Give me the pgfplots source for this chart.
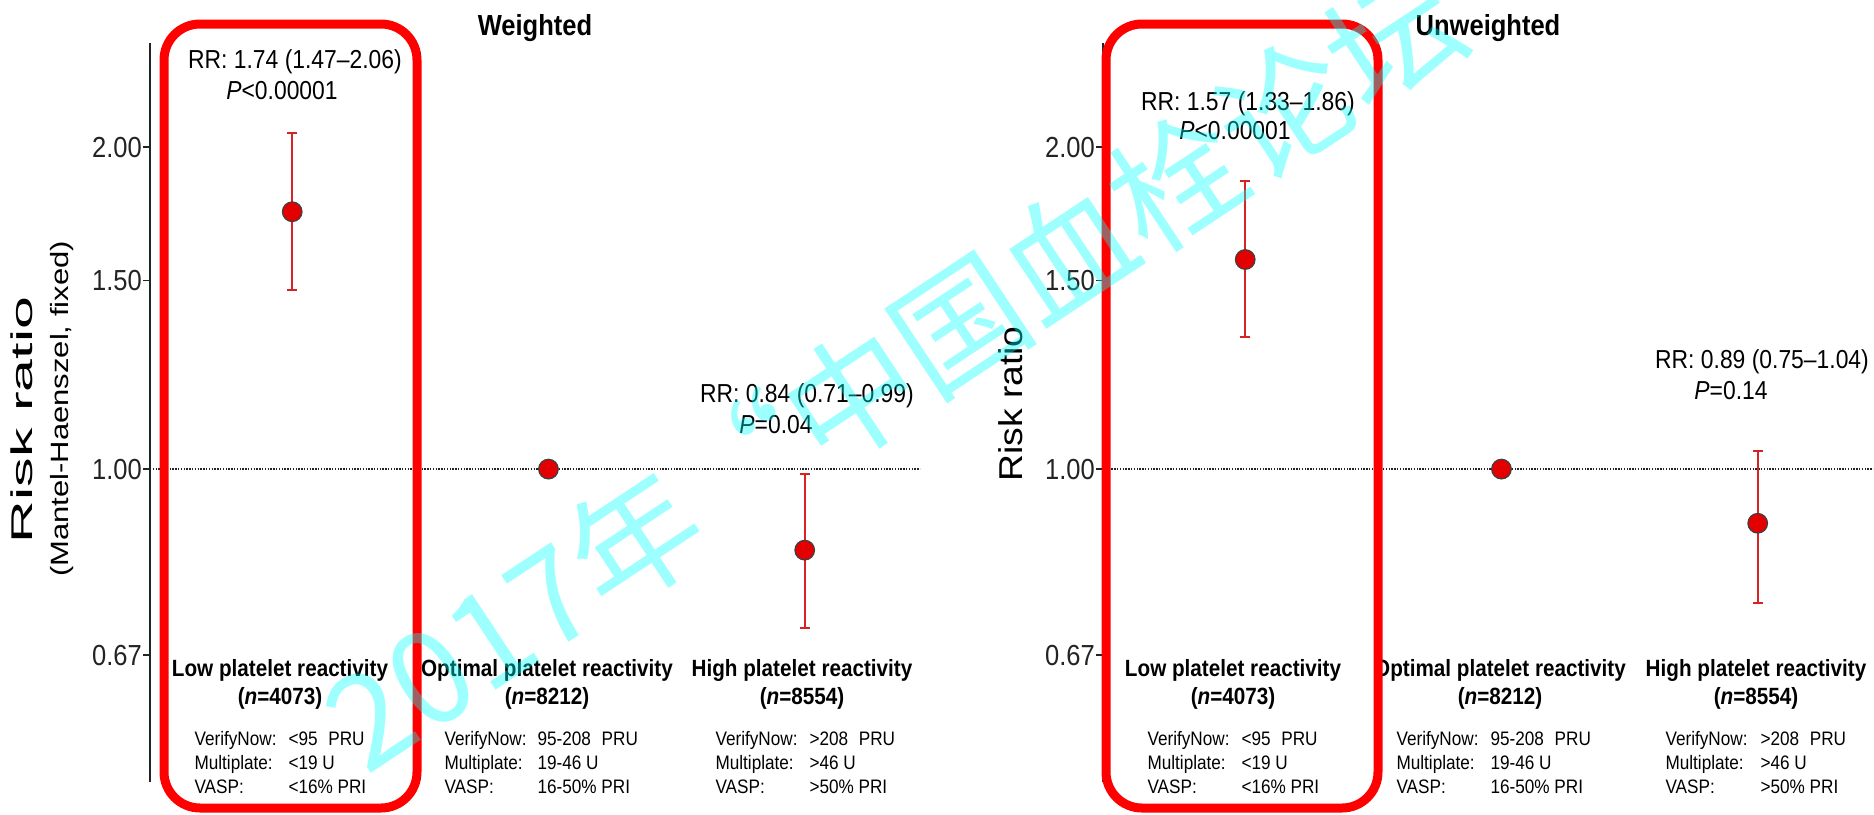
\documentclass[border=0pt]{standalone}
\usepackage{fontspec}
\setmainfont{Liberation Sans}[FakeStretch=0.88]
\newfontfamily\plainfont{Liberation Sans}
\newfontfamily\cjk{Noto Sans CJK SC}
\usepackage{graphicx}
\usepackage{pgfplots}
\pgfplotsset{compat=1.18}
\newcommand{\fs}[1]{\fontsize{#1}{#1}\selectfont}
\definecolor{ptred}{RGB}{226,0,0}
\definecolor{barred}{RGB}{215,35,35}
\definecolor{boxred}{RGB}{255,0,0}
\definecolor{axgray}{RGB}{35,35,35}
\definecolor{wmcyan}{RGB}{0,255,255}
\pgfplotsset{rrpanel/.style={
  scale only axis, width=770pt, height=738.7pt,
  xmin=0.445, xmax=3.45, ymin=0.51, ymax=2.5,
  axis x line=none, axis y line=left,
  axis line style={-, line width=2pt, color=axgray},
  xtick=\empty, ytick={0.67,1,1.5,2}, yticklabels={0.67,1.00,1.50,2.00},
  tick align=outside, major tick length=7pt,
  tick style={line width=1.5pt, color=axgray},
  yticklabel style={font=\fs{29}, inner sep=1pt, text=axgray},
  /pgf/number format/assume math mode=true,
  clip=false,
}}
% spec block: #1 x label col, #2 x value col, #3 v1, #4 v2, #5 v3
\newcommand{\spec}[5]{%
  \node[anchor=base west, font=\fs{19.5}] at (#1pt,-745pt) {VerifyNow:};
  \node[anchor=base west, font=\fs{19.5}] at (#1pt,-769pt) {Multiplate:};
  \node[anchor=base west, font=\fs{19.5}] at (#1pt,-793pt) {VASP:};
  \node[anchor=base west, font=\fs{19.5}] at (#2pt,-745pt) {#3};
  \node[anchor=base west, font=\fs{19.5}] at (#2pt,-769pt) {#4};
  \node[anchor=base west, font=\fs{19.5}] at (#2pt,-793pt) {#5};
}
\newcommand{\cat}[3]{%
  \node[anchor=base, font=\bfseries\fs{23.5}] at (#1pt,-676pt) {#2 platelet reactivity};
  \node[anchor=base, font=\bfseries\fs{23.5}] at (#1pt,-704pt) {(\textit{n}=#3)};
}
\begin{document}
\begin{tikzpicture}
% ---------------- Weighted ----------------
\begin{axis}[ymode=log, rrpanel, at={(150pt,-782pt)}, anchor=south west]
\addplot[axgray, line width=1.8pt, dash pattern=on 1.4pt off 1.4pt] coordinates {(0.445,1) (3.45,1)};
\addplot[barred, line width=2pt, mark=-, mark size=5pt, mark options={solid, line width=2pt}] coordinates {(1,1.47) (1,2.06)};
\addplot[barred, line width=2pt, mark=-, mark size=5pt, mark options={solid, line width=2pt}] coordinates {(3,0.71) (3,0.99)};
\addplot[only marks, mark=*, mark size=9.8pt, mark options={fill=ptred, draw=black!75, line width=1.2pt}] coordinates {(1,1.74) (2,1.00) (3,0.84)};
\end{axis}
% ---------------- Unweighted ----------------
\begin{axis}[ymode=log, rrpanel, at={(1103pt,-782pt)}, anchor=south west]
\addplot[axgray, line width=1.8pt, dash pattern=on 1.4pt off 1.4pt] coordinates {(0.445,1) (3.45,1)};
\addplot[barred, line width=2pt, mark=-, mark size=5pt, mark options={solid, line width=2pt}] coordinates {(1,1.33) (1,1.86)};
\addplot[barred, line width=2pt, mark=-, mark size=5pt, mark options={solid, line width=2pt}] coordinates {(3,0.75) (3,1.04)};
\addplot[only marks, mark=*, mark size=9.8pt, mark options={fill=ptred, draw=black!75, line width=1.2pt}] coordinates {(1,1.57) (2,1.00) (3,0.89)};
\end{axis}
% titles
\node[anchor=base, font=\bfseries\fs{29}] at (535pt,-35pt) {Weighted};
\node[anchor=base, font=\bfseries\fs{29}] at (1488pt,-35pt) {Unweighted};
% y labels
\node[anchor=base, rotate=90, font=\plainfont\fs{30}] at (32pt,-420pt) {\scalebox{1.97}[1]{Risk ratio}};
\node[anchor=base, rotate=90, font=\plainfont\fs{25}] at (68pt,-409pt) {\scalebox{1.24}[1]{(Mantel-Haenszel, fixed)}};
\node[anchor=base, rotate=90, font=\plainfont\fs{33}] at (1022pt,-404pt) {\scalebox{1.13}[1]{Risk ratio}};
% annotations
\node[anchor=base, font=\fs{26}] at (295pt,-68pt) {RR: 1.74 (1.47–2.06)};
\node[anchor=base, font=\fs{26}] at (282pt,-99pt) {\textit{P}<0.00001};
\node[anchor=base, font=\fs{26}] at (807pt,-402pt) {RR: 0.84 (0.71–0.99)};
\node[anchor=base, font=\fs{26}] at (776pt,-433pt) {\textit{P}=0.04};
\node[anchor=base, font=\fs{26}] at (1248pt,-110pt) {RR: 1.57 (1.33–1.86)};
\node[anchor=base, font=\fs{26}] at (1235pt,-139pt) {\textit{P}<0.00001};
\node[anchor=base, font=\fs{26}] at (1762pt,-368pt) {RR: 0.89 (0.75–1.04)};
\node[anchor=base, font=\fs{26}] at (1731pt,-399pt) {\textit{P}=0.14};
% category labels
\cat{280}{Low}{4073}
\cat{547}{Optimal}{8212}
\cat{802}{High}{8554}
\cat{1233}{Low}{4073}
\cat{1500}{Optimal}{8212}
\cat{1756}{High}{8554}
\spec{191}{285}{<95\hspace{0.55em}PRU}{<19 U}{<16\% PRI}
\spec{441}{534}{95-208\hspace{0.55em}PRU}{19-46 U}{16-50\% PRI}
\spec{712}{806}{>208\hspace{0.55em}PRU}{>46 U}{>50\% PRI}
\spec{1144}{1238}{<95\hspace{0.55em}PRU}{<19 U}{<16\% PRI}
\spec{1393}{1487}{95-208\hspace{0.55em}PRU}{19-46 U}{16-50\% PRI}
\spec{1662}{1757}{>208\hspace{0.55em}PRU}{>46 U}{>50\% PRI}
% highlight boxes
\draw[boxred, line width=9pt, rounded corners=36pt] (164pt,-24pt) rectangle (417pt,-808pt);
\draw[boxred, line width=9pt, rounded corners=36pt] (1106pt,-24pt) rectangle (1378pt,-808pt);
% watermark
\node[rotate=33.5, text=wmcyan, text opacity=0.38, font=\cjk\fs{130}, inner sep=0pt] at (893pt,-368pt) {2017年“中国血栓论坛};
\pgfresetboundingbox
\useasboundingbox (0pt,0pt) rectangle (1874pt,-814pt);
\end{tikzpicture}
\end{document}
